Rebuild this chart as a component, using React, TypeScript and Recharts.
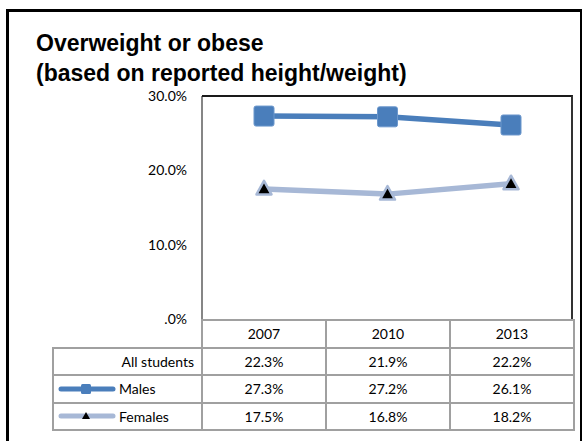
import { Line, LineChart, XAxis, YAxis } from 'recharts'

const YEARS = ['2007', '2010', '2013']
const ALL_STUDENTS = [22.3, 21.9, 22.2]
const MALES = [27.3, 27.2, 26.1]
const FEMALES = [17.5, 16.8, 18.2]
const Y_TICKS = [0, 10, 20, 30]

const MALE_COLOR = '#4A7EBB'
const FEMALE_COLOR = '#A7B8D6'
const GRID_COLOR = '#A0A0A0'
const FONT = 'Lato, "Open Sans", sans-serif'

const chartData = YEARS.map((year, i) => ({
  year,
  males: MALES[i],
  females: FEMALES[i],
}))

function formatPct(value: number): string {
  return value === 0 ? '.0%' : `${value.toFixed(1)}%`
}

function SquareDot(props: any) {
  const { cx, cy } = props
  if (cx == null || cy == null) return null
  return (
    <rect
      x={cx - 10}
      y={cy - 10}
      width={20}
      height={20}
      rx={2}
      fill={MALE_COLOR}
      stroke="#6B97CC"
      strokeWidth={1}
    />
  )
}

function TriangleDot(props: any) {
  const { cx, cy } = props
  if (cx == null || cy == null) return null
  return (
    <path
      d={`M${cx},${cy - 8} L${cx + 7.5},${cy + 5.5} L${cx - 7.5},${cy + 5.5} Z`}
      fill="#000"
      stroke={FEMALE_COLOR}
      strokeWidth={2.5}
      strokeLinejoin="round"
    />
  )
}

function LegendKey({ kind }: { kind: 'male' | 'female' }) {
  const color = kind === 'male' ? MALE_COLOR : FEMALE_COLOR
  return (
    <svg width={58} height={12} style={{ verticalAlign: 'middle' }}>
      <line x1={3} y1={6} x2={55} y2={6} stroke={color} strokeWidth={5} strokeLinecap="round" />
      {kind === 'male' ? (
        <rect x={23} y={1} width={10} height={10} rx={1.5} fill={MALE_COLOR} />
      ) : (
        <path d="M28,2 L32,9 L24,9 Z" fill="#000" />
      )}
    </svg>
  )
}

const cell: React.CSSProperties = {
  border: `2px solid ${GRID_COLOR}`,
  textAlign: 'center',
  padding: 0,
  height: 25.5,
}

export default function App() {
  const rows = [
    { label: 'All students', values: ALL_STUDENTS, key: null },
    { label: 'Males', values: MALES, key: 'male' as const },
    { label: 'Females', values: FEMALES, key: 'female' as const },
  ]

  return (
    <div
      style={{
        position: 'absolute',
        left: 0,
        top: 0,
        width: 582,
        height: 441,
        overflow: 'hidden',
        background: '#fff',
        fontFamily: FONT,
      }}
    >
      <div
        style={{
          position: 'absolute',
          left: 6,
          top: 9,
          width: 571,
          height: 460,
          border: '3px solid #000',
        }}
      />
      <div
        style={{
          position: 'absolute',
          left: 36,
          top: 28,
          fontFamily: '"Liberation Sans", Arial, sans-serif',
          fontWeight: 'bold',
          fontSize: 23,
          lineHeight: '30px',
          color: '#000',
        }}
      >
        Overweight or obese
        <br />
        (based on reported height/weight)
      </div>

      <div style={{ position: 'absolute', left: 0, top: 0 }}>
        <LineChart
          width={582}
          height={330}
          data={chartData}
          margin={{ top: 96, right: 9, bottom: 11, left: 0 }}
        >
          <XAxis dataKey="year" hide padding={{ left: 62, right: 62 }} />
          <YAxis
            width={202}
            domain={[0, 30]}
            ticks={Y_TICKS}
            tickFormatter={formatPct}
            axisLine={{ stroke: '#868686', strokeWidth: 2 }}
            tickLine={false}
            tickMargin={9}
            tick={{ fill: '#000', fontSize: 14, fontFamily: FONT }}
          />
          <Line
            dataKey="males"
            stroke={MALE_COLOR}
            strokeWidth={5.5}
            dot={<SquareDot />}
            activeDot={false}
            isAnimationActive={false}
          />
          <Line
            dataKey="females"
            stroke={FEMALE_COLOR}
            strokeWidth={5.5}
            dot={<TriangleDot />}
            activeDot={false}
            isAnimationActive={false}
          />
        </LineChart>
      </div>

      <div
        style={{
          position: 'absolute',
          left: 202,
          top: 95,
          width: 369,
          height: 224,
          borderTop: '2px solid #1a1a1a',
          borderRight: '2px solid #333',
          pointerEvents: 'none',
        }}
      />

      <table
        style={{
          position: 'absolute',
          left: 52,
          top: 319,
          borderCollapse: 'collapse',
          fontFamily: FONT,
          fontSize: 14,
          color: '#000',
        }}
      >
        <tbody>
          <tr>
            <td style={{ width: 148, padding: 0, border: 'none', borderRight: `2px solid ${GRID_COLOR}` }} />
            {YEARS.map((y) => (
              <td key={y} style={{ ...cell, width: 122 }}>
                {y}
              </td>
            ))}
          </tr>
          {rows.map((row) => (
            <tr key={row.label}>
              <td style={{ ...cell, textAlign: row.key ? 'left' : 'right', paddingRight: row.key ? 0 : 7 }}>
                {row.key ? (
                  <span style={{ display: 'inline-flex', alignItems: 'center', paddingLeft: 4 }}>
                    <LegendKey kind={row.key} />
                    <span style={{ marginLeft: 3 }}>{row.label}</span>
                  </span>
                ) : (
                  row.label
                )}
              </td>
              {row.values.map((v, i) => (
                <td key={YEARS[i]} style={cell}>
                  {formatPct(v)}
                </td>
              ))}
            </tr>
          ))}
        </tbody>
      </table>
    </div>
  )
}
